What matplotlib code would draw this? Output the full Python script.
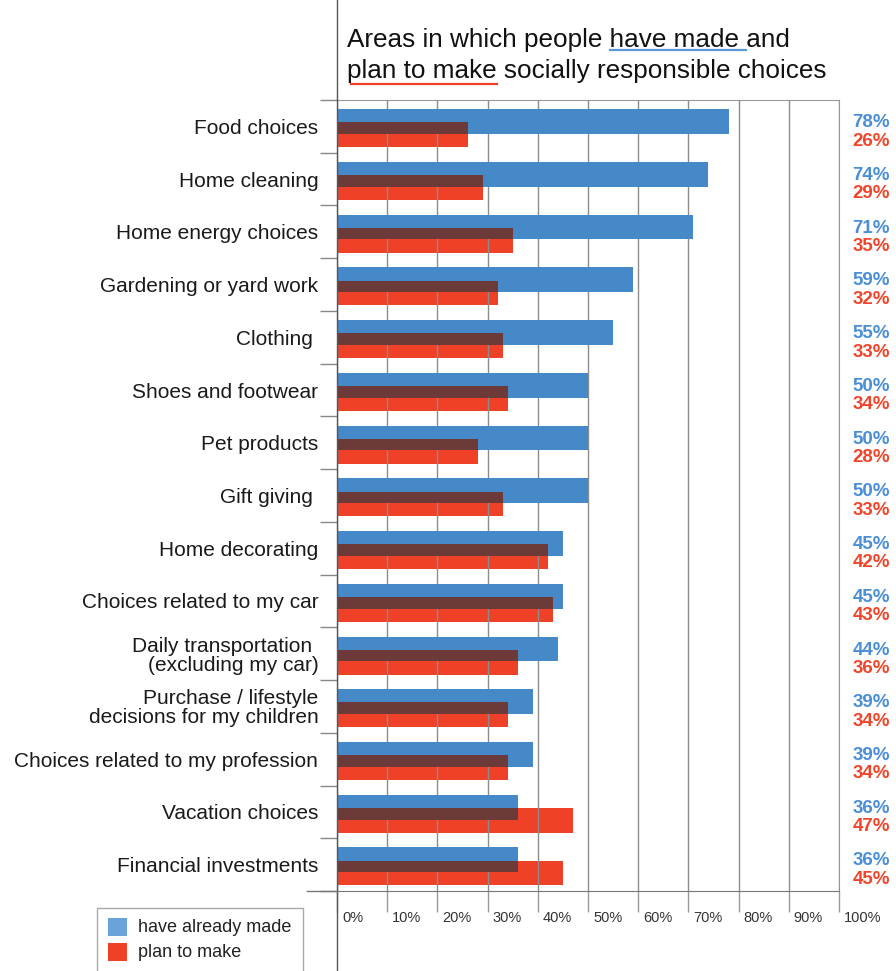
import matplotlib.pyplot as plt
import matplotlib.transforms as mtransforms
from matplotlib.lines import Line2D
from matplotlib.patches import Rectangle
import numpy as np

plt.rcParams['font.family'] = ['Liberation Sans', 'DejaVu Sans']

# Survey answers, in percent
categories = ['Food choices', 'Home cleaning', 'Home energy choices',
              'Gardening or yard work', 'Clothing ', 'Shoes and footwear',
              'Pet products', 'Gift giving ', 'Home decorating',
              'Choices related to my car',
              'Daily transportation \n(excluding my car)',
              'Purchase / lifestyle\ndecisions for my children',
              'Choices related to my profession', 'Vacation choices',
              'Financial investments']
have_made = [78, 74, 71, 59, 55, 50, 50, 50, 45, 45, 44, 39, 39, 36, 36]
plan_to_make = [26, 29, 35, 32, 33, 34, 28, 33, 42, 43, 36, 34, 34, 47, 45]
ticks = list(range(0, 101, 10))
tick_labels = ['%d%%' % t for t in ticks]
series_names = ['have already made', 'plan to make']

BLUE = '#4589c9'
RED = '#ef4128'
DARK = '#6d3a3a'
BLUE_TXT = '#4a8fd6'
RED_TXT = '#f0452a'
GRID = '#8c8c8c'

W, H = 896, 971
fig = plt.figure(figsize=(W / 100, H / 100), dpi=100)

# pixel helpers (top-left origin)
def fx(px):
    return px / W

def fy(py):
    return 1 - py / H

x0, x1, y0, y1 = 337, 839, 100, 891
ax = fig.add_axes([fx(x0), fy(y1), fx(x1) - fx(x0), fy(y0) - fy(y1)])

y = np.arange(len(categories))
ax.set_xlim(0, 100)
ax.set_ylim(len(categories) - 0.5, -0.5)

bh = 0.47
off_b = -0.09
off_r = 0.16
hm = np.array(have_made)
pm = np.array(plan_to_make)
ax.barh(y + off_b, hm, height=bh, color=BLUE, zorder=3, linewidth=0)
ax.barh(y + off_r, pm, height=bh, color=RED, zorder=1, linewidth=0)
# darker strip where the two bars overlap
ov_top = off_r - bh / 2
ov_bot = off_b + bh / 2
ax.barh(y + (ov_top + ov_bot) / 2, np.minimum(hm, pm), height=ov_bot - ov_top,
        color=DARK, zorder=3.5, linewidth=0)

# grid and axes
ax.set_axisbelow('line')
ax.set_xticks(ticks)
ax.set_xticklabels([])
ax.grid(axis='x', color=GRID, lw=1)
ax.tick_params(axis='x', direction='out', length=15, width=1, color='#999999')
for t, lab in zip(ticks, tick_labels):
    ax.text(t + 1.0, -0.034, lab, transform=ax.get_xaxis_transform(),
            ha='left', va='center', fontsize=10.5, color='#333333')

ax.set_yticks(y)
ax.set_yticklabels(categories, fontsize=15, color='#1a1a1a', multialignment='right')
for lab in ax.get_yticklabels():
    lab.set_linespacing(1.0)
ax.tick_params(axis='y', which='major', length=0, pad=13.5)
ax.set_yticks(np.arange(-0.5, len(categories), 1), minor=True)
ax.tick_params(axis='y', which='minor', direction='out', length=12, width=1,
               color='#888888')

for side in ['top', 'right']:
    ax.spines[side].set_color('#999999')
ax.spines['bottom'].set_color('#777777')
ax.spines['left'].set_visible(False)

# left line runs the full height, bottom axis reaches a bit further left
fig.add_artist(Line2D([fx(x0)] * 2, [0, 1], transform=fig.transFigure,
                      color='#555555', lw=1))
fig.add_artist(Line2D([fx(307), fx(x0)], [fy(y1)] * 2, transform=fig.transFigure,
                      color='#777777', lw=1))

# value labels on the right
trans = mtransforms.blended_transform_factory(ax.transAxes, ax.transData)
for i in range(len(categories)):
    ax.text(1.027, y[i] - 0.07, '%d%%' % have_made[i], transform=trans,
            ha='left', va='center', fontsize=13.5, fontweight='bold', color=BLUE_TXT)
    ax.text(1.027, y[i] + 0.28, '%d%%' % plan_to_make[i], transform=trans,
            ha='left', va='center', fontsize=13.5, fontweight='bold', color=RED_TXT)

# title with underlined key words
tsize = 18.8
line1 = 'Areas in which people have made and'
line2 = 'plan to make socially responsible choices'
t1 = fig.text(fx(347), fy(47), line1, fontsize=tsize, va='baseline', color='#111111')
t2 = fig.text(fx(347), fy(78), line2, fontsize=tsize, va='baseline', color='#111111')
fig.canvas.draw()
renderer = fig.canvas.get_renderer()

def text_width(s):
    tmp = fig.text(0, 0, s, fontsize=tsize)
    w = tmp.get_window_extent(renderer).width
    tmp.remove()
    return w

u1a = 347 + text_width('Areas in which people ')
u1b = 347 + text_width('Areas in which people have made ')
fig.add_artist(Line2D([fx(u1a), fx(u1b)], [fy(50)] * 2, transform=fig.transFigure,
                      color='#5b9ad8', lw=1.6))
u2b = 347 + text_width('plan to make')
fig.add_artist(Line2D([fx(351), fx(u2b)], [fy(84)] * 2, transform=fig.transFigure,
                      color=RED, lw=1.6))

# legend box
fig.add_artist(Rectangle((fx(97), fy(975)), fx(303) - fx(97), fy(908) - fy(975),
                         transform=fig.transFigure, facecolor='white',
                         edgecolor='#aaaaaa', lw=1))
for k, (name, col) in enumerate(zip(series_names, ['#6aa3da', RED])):
    top = 918 + k * 25
    fig.add_artist(Rectangle((fx(108), fy(top + 18)), fx(127) - fx(108),
                             fy(top) - fy(top + 18), transform=fig.transFigure,
                             facecolor=col, edgecolor='none'))
    fig.text(fx(138), fy(top + 9), name, fontsize=13, va='center',
             ha='left', color='#222222')

fig.savefig('out.png', dpi=100)
